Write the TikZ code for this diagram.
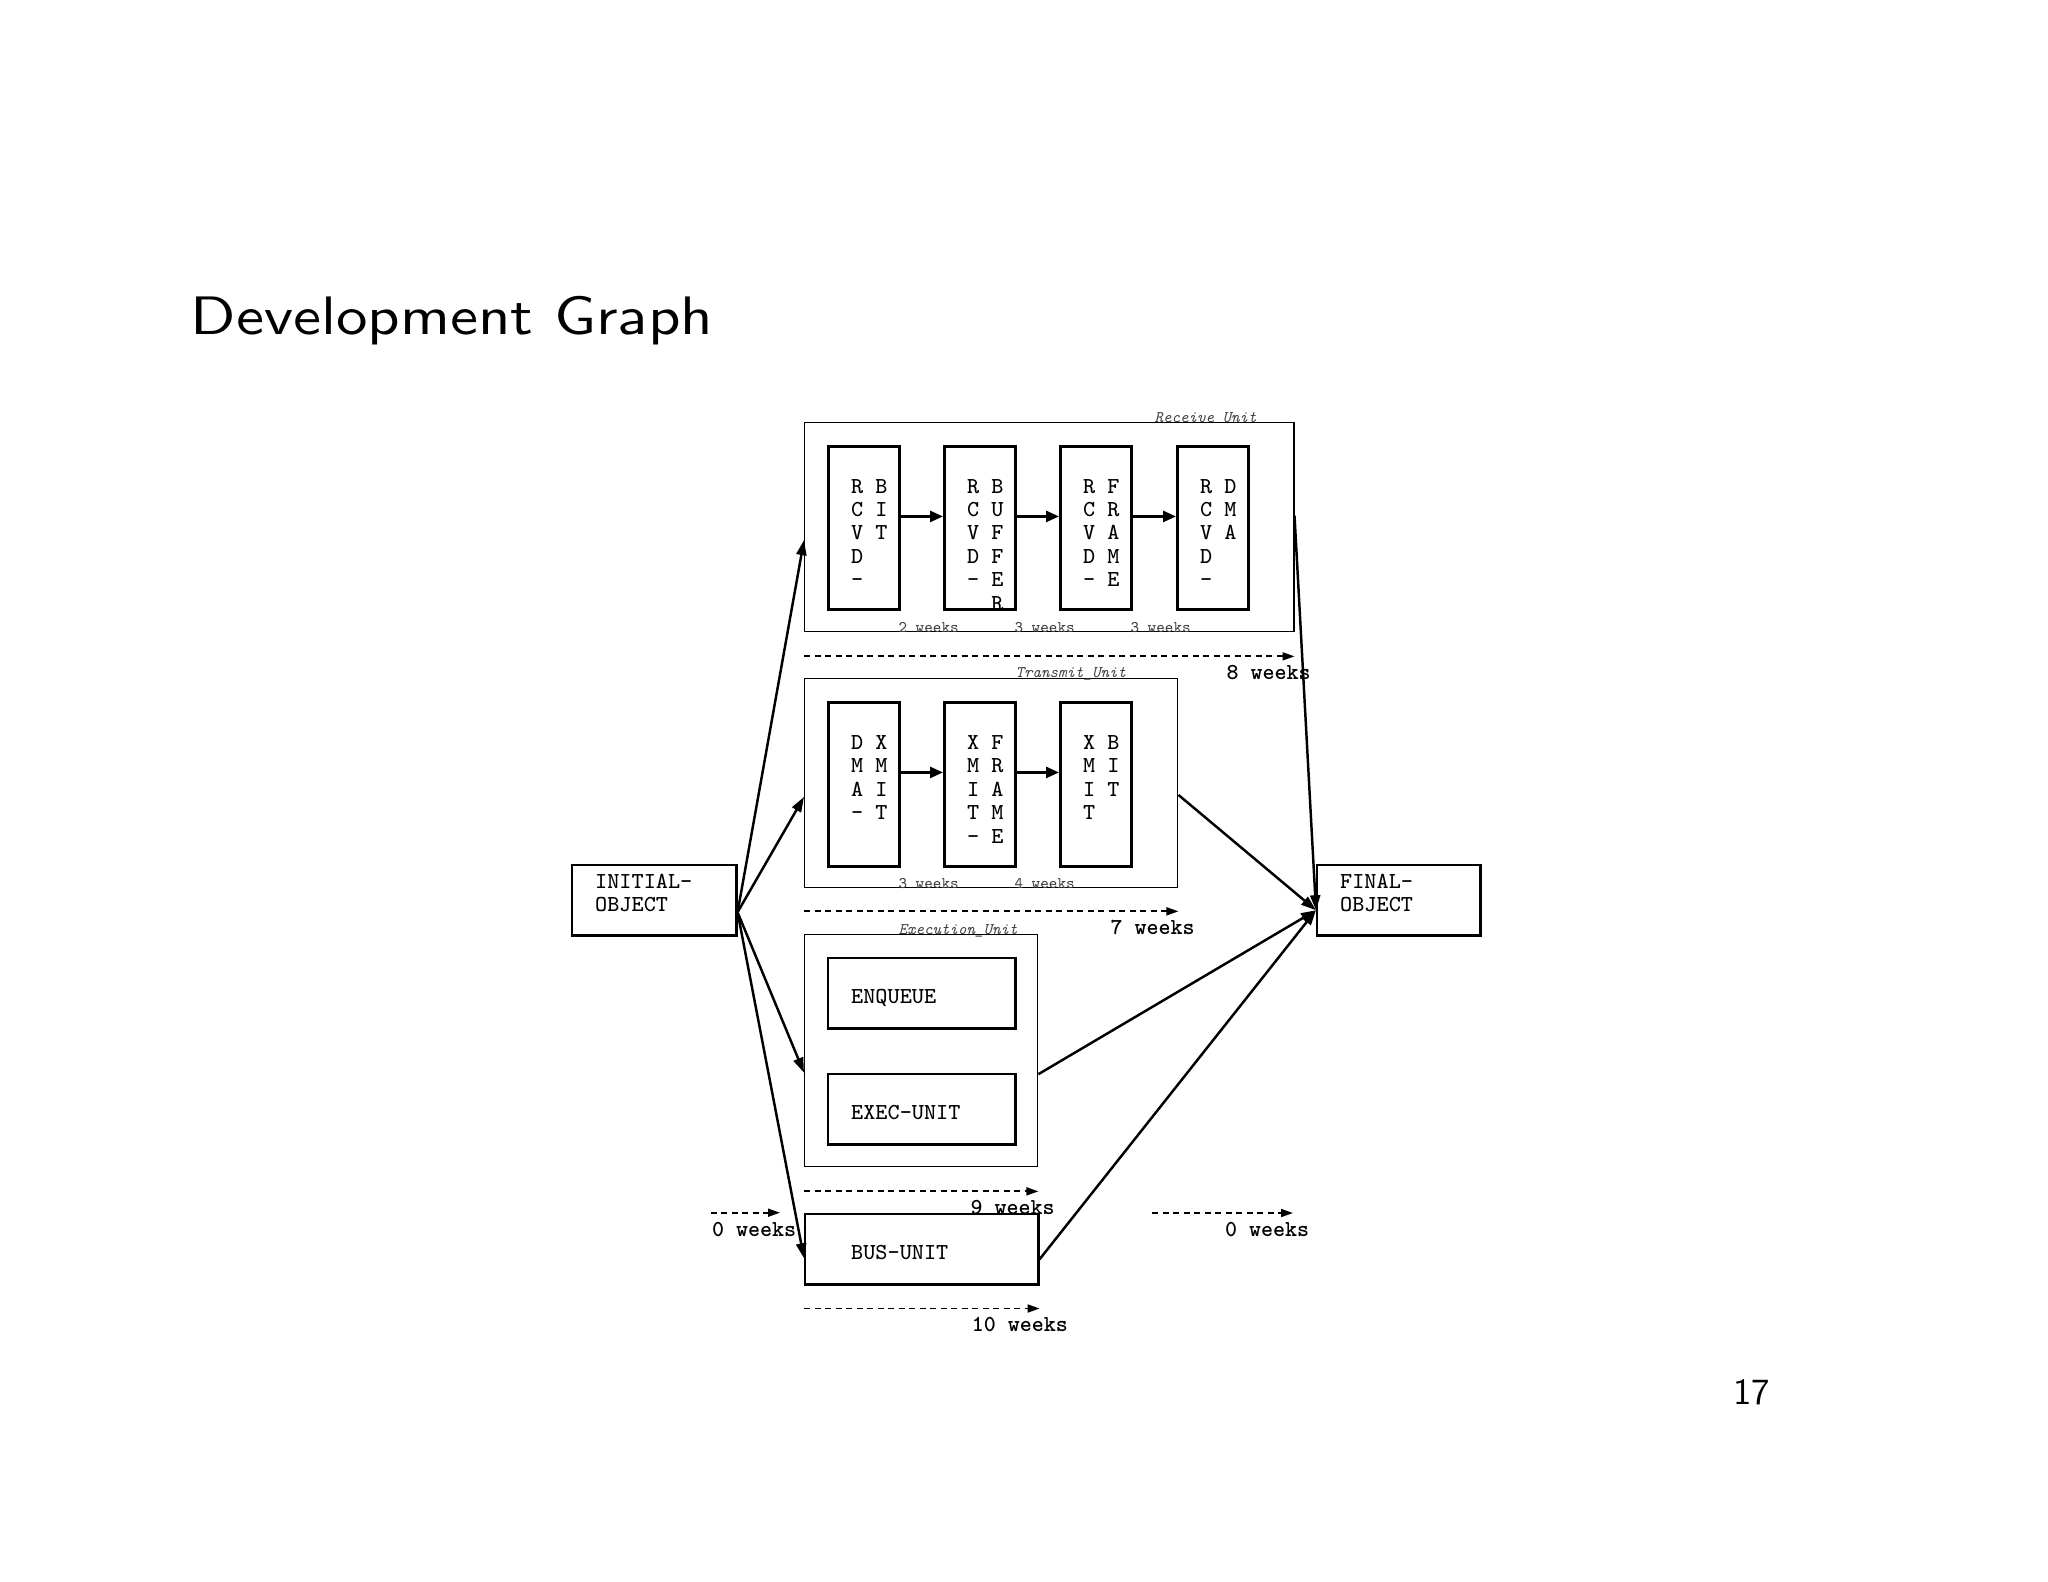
\documentclass[tikz,border=0pt]{standalone}
\usetikzlibrary{arrows.meta}
\tikzset{
  unitbox/.style={draw, line width=0.35pt, anchor=north west, inner sep=0pt},
  taskbox/.style={draw, line width=0.8pt, anchor=north west, inner sep=0pt},
  txt/.style={anchor=base west, inner sep=0pt, align=left,
    font=\ttfamily\fontsize{6.5}{6.66}\selectfont},
  small/.style={anchor=base west, inner sep=0pt, text=black!75,
    font=\ttfamily\fontsize{4.6}{5}\selectfont},
  unitname/.style={small, font=\ttfamily\itshape\fontsize{4.6}{5}\selectfont},
  dur/.style={anchor=base west, inner sep=0pt,
    font=\ttfamily\bfseries\fontsize{6.5}{6.66}\selectfont},
  link/.style={line width=0.7pt, -{Triangle[length=0.15cm, width=0.1cm]}},
  step arrow/.style={line width=0.75pt, -{Triangle[length=0.13cm, width=0.11cm]}},
  span/.style={line width=0.5pt, dash pattern=on 0.06cm off 0.045cm,
    -{Triangle[length=0.12cm, width=0.08cm]}},
}
\begin{document}
\begin{tikzpicture}[x=0.01cm, y=-0.01cm]
    \useasboundingbox (0,0) rectangle (2048,1582);
    % title and page number
    \node[anchor=base west, inner sep=0pt] (title) at (190,334) {\scalebox{1.79}[1.54]{\sffamily\fontsize{10}{12}\selectfont Development Graph}};
    \node[anchor=base east, inner sep=0pt, font=\sffamily\fontsize{10.5}{12}\selectfont] (page) at (1771,1404) {17};
    % start and end objects (text anchored at its last line)
    \node[taskbox, line width=0.7pt, minimum width=1.64cm, minimum height=0.70cm] (init) at (571,864) {};
    \node[txt] (init-t) at ([shift={(23.5,47.5)}]init.north west) {INITIAL-\\OBJECT};
    \node[taskbox, line width=0.7pt, minimum width=1.63cm, minimum height=0.70cm] (final) at (1316,864) {};
    \node[txt] (final-t) at ([shift={(23.5,47.5)}]final.north west) {FINAL-\\OBJECT};
    % receive unit
    \node[unitbox, minimum width=4.89cm, minimum height=2.09cm] (recv) at (804,422) {};
    \node[unitname] (recv-n) at (1154,422) {Receive Unit};
    \node[taskbox, minimum width=0.71cm, minimum height=1.63cm] (rbit) at (827,445) {};
    \node[taskbox, minimum width=0.71cm, minimum height=1.63cm] (rbuf) at (943,445) {};
    \node[taskbox, minimum width=0.71cm, minimum height=1.63cm] (rframe) at (1059,445) {};
    \node[taskbox, minimum width=0.71cm, minimum height=1.63cm] (rdma) at (1176,445) {};
    \node[txt] (rbit-t) at ([shift={(23.5,141.7)}]rbit.north west) {R B\\C I\\V T\\D\\-};
    \node[txt] (rbuf-t) at ([shift={(23.5,165.2)}]rbuf.north west) {R B\\C U\\V F\\D F\\- E\\\phantom{-} R};
    \node[txt] (rframe-t) at ([shift={(23.5,141.7)}]rframe.north west) {R F\\C R\\V A\\D M\\- E};
    \node[txt] (rdma-t) at ([shift={(23.5,141.7)}]rdma.north west) {R D\\C M\\V A\\D\\-};
    \draw[step arrow] ([shift={(0,-11.5)}]rbit.east) -- ([shift={(0,-11.5)}]rbuf.west);
    \draw[step arrow] ([shift={(0,-11.5)}]rbuf.east) -- ([shift={(0,-11.5)}]rframe.west);
    \draw[step arrow] ([shift={(0,-11.5)}]rframe.east) -- ([shift={(0,-11.5)}]rdma.west);
    \node[small] (rw1) at ([shift={(-3,0)}]rbit.east |- recv.south) {2 weeks};
    \node[small] (rw2) at ([shift={(-3,0)}]rbuf.east |- recv.south) {3 weeks};
    \node[small] (rw3) at ([shift={(-3,0)}]rframe.east |- recv.south) {3 weeks};
    % transmit unit
    \node[unitbox, minimum width=3.73cm, minimum height=2.095cm] (xmit) at (804,677.5) {};
    \node[unitname] (xmit-n) at (1015,677.5) {Transmit\_Unit};
    \node[taskbox, minimum width=0.71cm, minimum height=1.64cm] (xdma) at (827,701) {};
    \node[taskbox, minimum width=0.71cm, minimum height=1.64cm] (xframe) at (943,701) {};
    \node[taskbox, minimum width=0.71cm, minimum height=1.64cm] (xbit) at (1059,701) {};
    \node[txt] (xdma-t) at ([shift={(23.5,118.8)}]xdma.north west) {D X\\M M\\A I\\- T};
    \node[txt] (xframe-t) at ([shift={(23.5,142.2)}]xframe.north west) {X F\\M R\\I A\\T M\\- E};
    \node[txt] (xbit-t) at ([shift={(23.5,118.8)}]xbit.north west) {X B\\M I\\I T\\T};
    \draw[step arrow] ([shift={(0,-12)}]xdma.east) -- ([shift={(0,-12)}]xframe.west);
    \draw[step arrow] ([shift={(0,-12)}]xframe.east) -- ([shift={(0,-12)}]xbit.west);
    \node[small] (xw1) at ([shift={(-3,0)}]xdma.east |- xmit.south) {3 weeks};
    \node[small] (xw2) at ([shift={(-3,0)}]xframe.east |- xmit.south) {4 weeks};
    % execution unit
    \node[unitbox, minimum width=2.33cm, minimum height=2.32cm] (exec) at (804,934) {};
    \node[unitname] (exec-n) at (898,934) {Execution\_Unit};
    \node[taskbox, line width=0.7pt, minimum width=1.87cm, minimum height=0.70cm] (enq) at (827,957) {};
    \node[txt] (enq-t) at ([shift={(23.5,46.7)}]enq.north west) {ENQUEUE};
    \node[taskbox, line width=0.7pt, minimum width=1.87cm, minimum height=0.70cm] (eu) at (827,1073) {};
    \node[txt] (eu-t) at ([shift={(23.5,46.7)}]eu.north west) {EXEC-UNIT};
    % bus unit
    \node[taskbox, line width=0.7pt, minimum width=2.33cm, minimum height=0.70cm] (bus) at (804,1213) {};
    \node[txt] (bus-t) at ([shift={(46.5,46.7)}]bus.north west) {BUS-UNIT};
    % connectors
    \draw[link] ([shift={(0,12)}]init.east) -- ([shift={(0,13)}]recv.west);
    \draw[link] ([shift={(0,12)}]init.east) -- ([shift={(0,14)}]xmit.west);
    \draw[link] ([shift={(0,12)}]init.east) -- ([shift={(0,22)}]exec.west);
    \draw[link] ([shift={(0,12)}]init.east) -- ([shift={(0,9)}]bus.west);
    \draw[link] ([shift={(0,-11.5)}]recv.east) -- ([shift={(0,10)}]final.west);
    \draw[link] ([shift={(0,12)}]xmit.east) -- ([shift={(0,10)}]final.west);
    \draw[link] ([shift={(0,23.5)}]exec.east) -- ([shift={(0,10)}]final.west);
    \draw[link] ([shift={(0,10)}]bus.east) -- ([shift={(0,10)}]final.west);
    % durations
    \draw[span] ([shift={(0,24)}]recv.south west) -- ([shift={(0,24)}]recv.south east) coordinate (e8);
    \node[dur] (w8) at ([shift={(-68.5,23)}]e8) {8 weeks};
    \draw[span] ([shift={(0,23)}]xmit.south west) -- ([shift={(0,23)}]xmit.south east) coordinate (e7);
    \node[dur] (w7) at ([shift={(-68.5,23)}]e7) {7 weeks};
    \draw[span] ([shift={(0,24)}]exec.south west) -- ([shift={(0,24)}]exec.south east) coordinate (e9);
    \node[dur] (w9) at ([shift={(-68.5,23)}]e9) {9 weeks};
    \draw[span] ([shift={(0,23)}]bus.south west) -- ([shift={(0,23)}]bus.south east) coordinate (e10);
    \node[dur] (w10) at ([shift={(-68.5,23)}]e10) {10 weeks};
    \coordinate (s0a) at (710.7,1212.7);
    \coordinate (e0a) at (780,1212.7);
    \draw[span] (s0a) -- (e0a);
    \node[dur] (w0a) at ([shift={(-68.5,24)}]e0a) {0 weeks};
    \coordinate (s0b) at (1152,1213);
    \coordinate (e0b) at (1293,1213);
    \draw[span] (s0b) -- (e0b);
    \node[dur] (w0b) at ([shift={(-68.5,23.5)}]e0b) {0 weeks};
\end{tikzpicture}
\end{document}
